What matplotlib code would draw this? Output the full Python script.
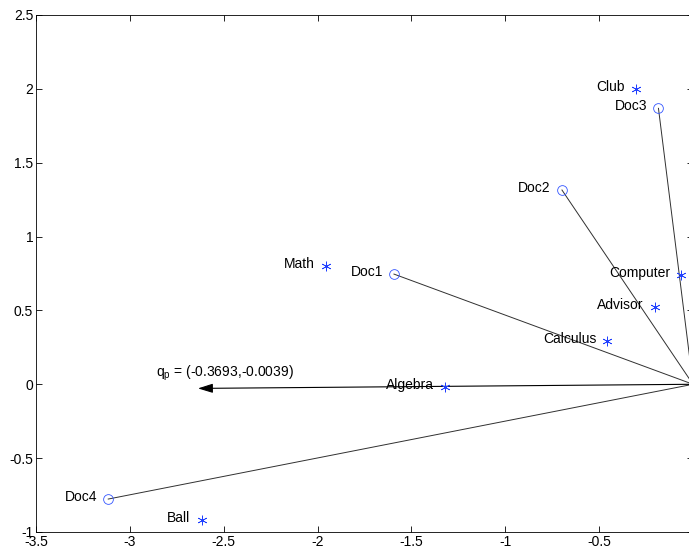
import matplotlib
matplotlib.use("Agg")
import matplotlib.pyplot as plt

plt.rcParams["font.family"] = ["Liberation Sans", "DejaVu Sans"]
plt.rcParams["font.size"] = 10

# term coordinates (plotted as *)
terms = ["Club", "Computer", "Advisor", "Calculus", "Math", "Algebra", "Ball"]
term_x = [-0.305, -0.062, -0.202, -0.456, -1.955, -1.321, -2.618]
term_y = [1.997, 0.740, 0.521, 0.293, 0.803, -0.017, -0.919]

# document coordinates (plotted as o, joined to origin)
docs = ["Doc1", "Doc2", "Doc3", "Doc4"]
doc_x = [-1.593, -0.698, -0.184, -3.115]
doc_y = [0.746, 1.315, 1.868, -0.777]

# query vector (drawn scaled)
q_end = (-2.637, -0.028)
q_label = r"q$_{\mathregular{p}}$ = (-0.3693,-0.0039)"
q_label_pos = (-2.86, 0.076)

fig = plt.figure(figsize=(6.89, 5.51), dpi=100)
ax = fig.add_axes([0.0522, 0.0345, 0.9536, 0.9383])

for x, y in zip(doc_x, doc_y):
    ax.plot([0, x], [0, y], color="#303030", lw=0.7, zorder=1)

ax.plot(term_x, term_y, linestyle="none", marker=(6, 2, 0), color="#2040ff",
        markersize=7, markeredgewidth=0.5, zorder=3)
ax.plot(doc_x, doc_y, linestyle="none", marker="o", markerfacecolor="none",
        markeredgecolor="#3355ff", markersize=7, markeredgewidth=0.6, zorder=3)

for name, x, y in zip(terms + docs, term_x + doc_x, term_y + doc_y):
    ax.annotate(name, (x, y), xytext=(-8, 1.5), textcoords="offset points",
                ha="right", va="center", fontsize=10)

ax.annotate("", xy=q_end, xytext=(0, 0),
            arrowprops=dict(arrowstyle="-|>,head_length=0.9,head_width=0.28",
                            color="black", lw=0.8, shrinkA=0, shrinkB=0),
            zorder=2)
ax.text(q_label_pos[0], q_label_pos[1], q_label, ha="left", va="center",
        fontsize=10)

ax.set_xlim(-3.5, 0)
ax.set_ylim(-1, 2.5)
ax.set_xticks([-3.5, -3, -2.5, -2, -1.5, -1, -0.5, 0])
ax.set_xticklabels(["-3.5", "-3", "-2.5", "-2", "-1.5", "-1", "-0.5", "0"])
ax.set_yticks([-1, -0.5, 0, 0.5, 1, 1.5, 2, 2.5])
ax.set_yticklabels(["-1", "-0.5", "0", "0.5", "1", "1.5", "2", "2.5"])
ax.tick_params(direction="in", length=4.5, width=0.6, top=True, right=True,
               labelsize=10, pad=2)
for s in ax.spines.values():
    s.set_linewidth(0.6)

fig.savefig("out.png", dpi=100)
